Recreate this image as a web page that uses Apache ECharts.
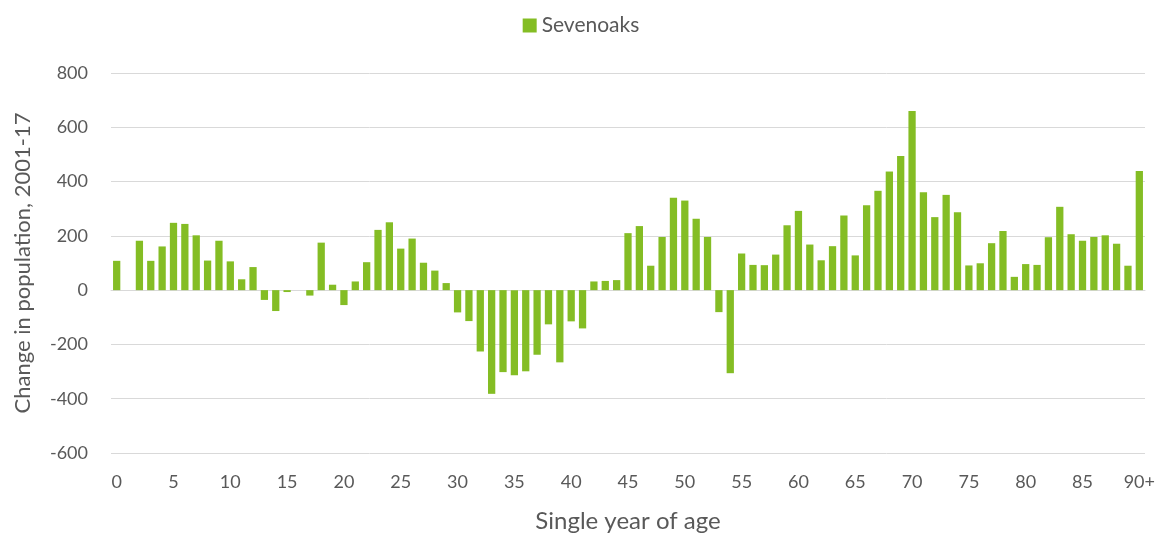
<!DOCTYPE html>
<html>
<head>
<meta charset="utf-8">
<script src="https://cdn.jsdelivr.net/npm/echarts@6/dist/echarts.min.js"></script>
<style>
  html, body { margin: 0; padding: 0; background: #fff; }
  #chart { width: 1162px; height: 538px; }
</style>
</head>
<body>
<div id="chart"></div>
<script>
// 年龄类别 0..89, 90+
const ages = []
for (let i = 0; i < 90; i++) ages.push(String(i))
ages.push('90+')

// Sevenoaks 2001-17 人口变化
const sevenoaks = [
  108, 0, 182, 108, 161, 248, 244, 202, 109, 182,
  106, 40, 85, -36, -77, -7, 0, -20, 175, 20,
  -55, 32, 103, 222, 250, 153, 190, 101, 72, 26,
  -82, -114, -226, -382, -302, -314, -299, -238, -126, -266,
  -115, -141, 32, 34, 37, 210, 236, 90, 196, 340,
  330, 263, 196, -81, -306, 135, 93, 92, 131, 239,
  292, 168, 110, 162, 275, 128, 313, 366, 437, 494,
  660, 361, 269, 351, 287, 91, 99, 173, 218, 49,
  96, 93, 195, 307, 206, 182, 196, 202, 171, 90,
  439
]

const yTicks = { min: -600, max: 800, step: 200 }

const textColor = '#595959'
const font = 'Lato, "Open Sans", sans-serif'

const chart = echarts.init(document.getElementById('chart'))
const option = {
  animation: false,
  textStyle: { fontFamily: font },
  legend: {
    top: 10,
    left: 'center',
    icon: 'rect',
    itemWidth: 14,
    itemHeight: 14,
    itemGap: 6,
    textStyle: { fontSize: 21, color: textColor, fontFamily: font },
    data: ['Sevenoaks']
  },
  grid: { left: 111, right: 17, top: 73, bottom: 85, containLabel: false },
  xAxis: {
    type: 'category',
    data: ages,
    name: 'Single year of age',
    nameLocation: 'middle',
    nameGap: 56,
    nameTextStyle: { fontSize: 24, color: textColor },
    axisLine: { lineStyle: { color: '#d9d9d9', width: 1 } },
    axisTick: { show: false },
    axisLabel: { interval: 4, fontSize: 18, color: textColor, margin: 20 }
  },
  yAxis: {
    type: 'value',
    min: yTicks.min,
    max: yTicks.max,
    interval: yTicks.step,
    name: 'Change in population, 2001-17',
    nameLocation: 'middle',
    nameGap: 77,
    nameTextStyle: { fontSize: 22, color: textColor },
    axisLine: { show: false },
    axisTick: { show: false },
    axisLabel: { fontSize: 18, color: textColor, margin: 23 },
    splitLine: { lineStyle: { color: '#d9d9d9', width: 1 } }
  },
  series: [
    {
      name: 'Sevenoaks',
      type: 'bar',
      data: sevenoaks,
      barCategoryGap: '36%',
      itemStyle: { color: '#84bd24' }
    }
  ]
}
option && chart.setOption(option)
</script>
</body>
</html>
